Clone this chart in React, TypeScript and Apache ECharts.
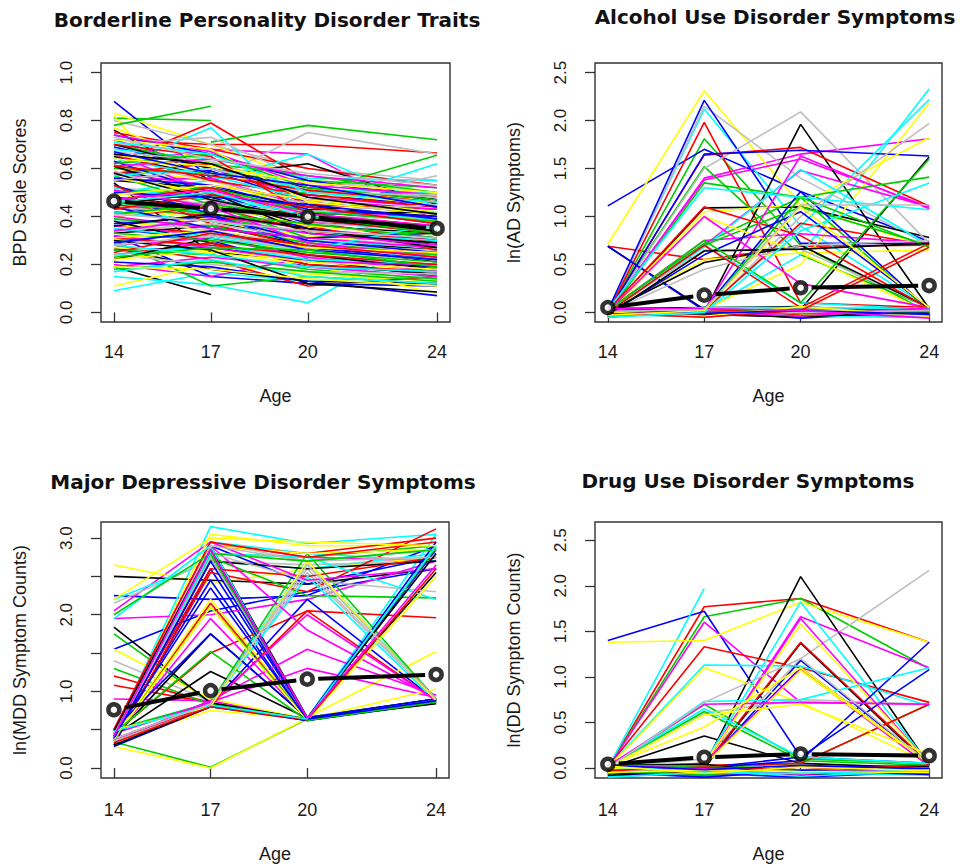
import React, { useEffect, useRef } from "react";
import * as echarts from "echarts";

// ---------- shared axis data ----------
const ages = [14, 17, 20, 24];
const ageTicks = [14, 17, 20, 24];
const bpdTicks = [0, 0.2, 0.4, 0.6, 0.8, 1.0];
const adTicks = [0, 0.5, 1.0, 1.5, 2.0, 2.5];
const mddTicks = [0, 0.5, 1.0, 1.5, 2.0, 2.5, 3.0];
const mddLabelTicks = [0, 1, 2, 3];
const ddTicks = [0, 0.5, 1.0, 1.5, 2.0, 2.5];

const titles = [
  "Borderline Personality Disorder Traits",
  "Alcohol Use Disorder Symptoms",
  "Major Depressive Disorder Symptoms",
  "Drug Use Disorder Symptoms",
];
const yNames = [
  "BPD Scale Scores",
  "ln(AD Symptoms)",
  "ln(MDD Symptom Counts)",
  "ln(DD Symptom Counts)",
];

// R classic palette: black, red, green3, blue, cyan, magenta, yellow, gray
const palette = ["#000000", "#FF0000", "#00CD00", "#0000FF", "#00FFFF", "#FF00FF", "#FFFF00", "#BEBEBE"];

// ---------- group means (ages 14, 17, 20, 24) ----------
const bpdMean = [0.464, 0.433, 0.399, 0.35];
const adMean = [0.05, 0.18, 0.257, 0.28];
const mddMean = [0.76, 1.01, 1.16, 1.22];
const ddMean = [0.04, 0.117, 0.153, 0.135];

// ---------- individual trajectories, grouped by palette colour ----------
const bpdLines = [
  [ // black
    [0.19, 0.075, null, null], [0.76, 0.55, 0.45, 0.38], [0.54, 0.25, 0.22, 0.15], [0.65, 0.57, 0.62, 0.45],
    [0.42, 0.38, 0.30, 0.26], [0.33, 0.36, 0.28, 0.21], [0.61, 0.48, 0.36, 0.33], [0.27, 0.18, 0.13, 0.12],
    [0.48, 0.44, 0.41, 0.42], [0.38, 0.29, 0.20, 0.16], [0.55, 0.52, 0.44, 0.40], [0.22, 0.31, 0.24, 0.18],
    [0.70, 0.60, 0.52, 0.47], [0.30, 0.26, 0.12, 0.085], [0.45, 0.50, 0.33, 0.29], [0.58, 0.47, 0.39, 0.34],
    [0.36, 0.41, 0.35, 0.27], [0.66, 0.62, 0.48, 0.41],
  ],
  [ // red
    [0.72, 0.70, 0.70, 0.665], [0.62, 0.79, 0.55, 0.48], [0.75, 0.68, 0.60, 0.53], [0.50, 0.47, 0.38, 0.29],
    [0.36, 0.33, 0.26, 0.22], [0.58, 0.62, 0.45, 0.43], [0.28, 0.22, 0.11, 0.15], [0.45, 0.40, 0.36, 0.26],
    [0.66, 0.55, 0.49, 0.44], [0.24, 0.29, 0.20, 0.17], [0.40, 0.44, 0.34, 0.30], [0.53, 0.37, 0.27, 0.25],
    [0.31, 0.28, 0.24, 0.20], [0.70, 0.65, 0.41, 0.36], [0.47, 0.52, 0.39, 0.33], [0.43, 0.49, 0.44, 0.37],
    [0.61, 0.57, 0.51, 0.46], [0.25, 0.33, 0.28, 0.23],
  ],
  [ // green
    [0.81, 0.80, null, null], [null, 0.71, 0.78, 0.72], [0.78, 0.86, null, null], [0.30, 0.11, 0.15, 0.12],
    [0.52, 0.48, 0.50, 0.655], [0.60, 0.58, 0.55, 0.52], [0.44, 0.40, 0.33, 0.28], [0.26, 0.24, 0.18, 0.14],
    [0.70, 0.62, 0.57, 0.50], [0.39, 0.36, 0.29, 0.24], [0.50, 0.52, 0.42, 0.38], [0.18, 0.21, 0.17, 0.13],
    [0.57, 0.45, 0.31, 0.34], [0.33, 0.30, 0.25, 0.21], [0.46, 0.41, 0.37, 0.31], [0.62, 0.66, 0.52, 0.47],
    [0.41, 0.45, 0.40, 0.33], [0.23, 0.27, 0.26, 0.19],
  ],
  [ // blue
    [0.88, 0.56, 0.42, 0.38], [0.32, 0.15, 0.12, 0.11], [0.69, 0.60, 0.49, 0.45], [0.47, 0.43, 0.40, 0.36],
    [0.58, 0.59, 0.46, 0.41], [0.35, 0.30, 0.19, 0.17], [0.26, 0.27, 0.22, 0.19], [0.63, 0.50, 0.37, 0.31],
    [0.41, 0.46, 0.35, 0.28], [0.53, 0.41, 0.27, 0.22], [0.21, 0.19, 0.13, 0.07], [0.74, 0.66, 0.55, 0.47],
    [0.44, 0.35, 0.31, 0.33], [0.56, 0.53, 0.43, 0.40], [0.37, 0.40, 0.30, 0.25], [0.50, 0.48, 0.45, 0.39],
    [0.29, 0.34, 0.26, 0.22], [0.67, 0.58, 0.53, 0.44],
  ],
  [ // cyan
    [0.09, 0.165, 0.13, 0.15], [0.15, 0.115, 0.04, 0.34], [0.60, 0.77, 0.40, 0.30], [0.50, 0.55, 0.66, 0.44],
    [0.45, 0.42, 0.45, 0.62], [0.68, 0.64, 0.56, 0.55], [0.38, 0.36, 0.30, 0.27], [0.30, 0.33, 0.25, 0.23],
    [0.52, 0.47, 0.42, 0.39], [0.24, 0.28, 0.22, 0.20], [0.64, 0.57, 0.47, 0.42], [0.42, 0.38, 0.33, 0.30],
    [0.17, 0.22, 0.15, 0.12], [0.57, 0.60, 0.51, 0.50], [0.35, 0.31, 0.26, 0.37], [0.46, 0.50, 0.40, 0.35],
    [0.71, 0.66, 0.50, 0.46], [0.28, 0.24, 0.19, 0.17],
  ],
  [ // magenta
    [0.62, 0.68, 0.66, 0.38], [0.20, 0.15, 0.23, 0.20], [0.72, 0.60, 0.48, 0.44], [0.55, 0.56, 0.44, 0.37],
    [0.48, 0.40, 0.35, 0.30], [0.36, 0.32, 0.27, 0.24], [0.66, 0.50, 0.42, 0.40], [0.28, 0.31, 0.23, 0.17],
    [0.43, 0.46, 0.38, 0.34], [0.19, 0.23, 0.19, 0.15], [0.58, 0.53, 0.47, 0.43], [0.32, 0.27, 0.21, 0.20],
    [0.40, 0.35, 0.31, 0.27], [0.74, 0.67, 0.53, 0.49], [0.51, 0.44, 0.29, 0.23], [0.61, 0.64, 0.57, 0.52],
    [0.34, 0.39, 0.33, 0.28], [0.47, 0.51, 0.41, 0.36],
  ],
  [ // yellow
    [0.83, 0.70, 0.55, 0.48], [0.82, 0.35, 0.30, 0.27], [0.77, 0.62, 0.50, 0.45], [0.11, 0.20, 0.16, 0.13],
    [0.60, 0.55, 0.43, 0.38], [0.45, 0.38, 0.32, 0.29], [0.35, 0.40, 0.29, 0.24], [0.52, 0.30, 0.26, 0.22],
    [0.27, 0.25, 0.20, 0.08], [0.66, 0.58, 0.52, 0.46], [0.40, 0.45, 0.36, 0.32], [0.22, 0.26, 0.21, 0.18],
    [0.56, 0.50, 0.41, 0.35], [0.72, 0.68, 0.46, 0.41], [0.31, 0.34, 0.27, 0.25], [0.49, 0.53, 0.47, 0.42],
    [0.64, 0.61, 0.54, 0.50], [0.19, 0.18, 0.14, 0.11],
  ],
  [ // gray
    [0.80, 0.70, 0.60, 0.55], [0.58, 0.55, 0.75, 0.66], [0.70, 0.73, 0.55, 0.50], [0.47, 0.42, 0.40, 0.39],
    [0.63, 0.55, 0.45, 0.43], [0.39, 0.34, 0.28, 0.26], [0.30, 0.28, 0.23, 0.20], [0.52, 0.49, 0.46, 0.57],
    [0.44, 0.41, 0.37, 0.35], [0.24, 0.20, 0.17, 0.16], [0.59, 0.47, 0.38, 0.36], [0.34, 0.37, 0.31, 0.28],
    [0.67, 0.63, 0.51, 0.48], [0.50, 0.45, 0.42, 0.45], [0.28, 0.32, 0.26, 0.22], [0.55, 0.60, 0.50, 0.49],
    [0.41, 0.38, 0.34, 0.31], [0.73, 0.64, 0.58, 0.53],
  ],
];

const adLines = [
  [ // black
    [0.69, 0.03, null, null], [0.0, 1.09, 1.1, 0.78], [0.02, 0.0, 1.96, 0.04], [-0.02, 0.01, 0.03, 1.62],
    [0.01, 0.52, 0.70, 0.05], [0.03, -0.04, 0.02, -0.03], [-0.05, 0.02, -0.02, 0.04], [0.04, 0.05, 0.06, -0.01],
    [0.0, -0.02, -0.05, 0.02], [-0.03, 0.64, 0.66, 0.72],
  ],
  [ // red
    [0.69, 0.55, 0.69, 0.70], [0.0, 1.98, 0.10, 0.05], [0.01, 1.64, 1.72, 1.11], [-0.02, 0.02, 0.93, 0.70],
    [0.02, 1.10, 0.80, 0.04], [0.0, 0.70, 0.05, 0.72], [0.03, -0.03, 0.01, 0.06], [-0.04, 0.04, -0.03, -0.05],
    [0.05, 0.01, 0.04, 0.02], [-0.01, -0.05, 0.02, 0.68],
  ],
  [ // green
    [0.0, 1.81, 0.70, 0.0], [0.02, 1.52, 0.60, 0.05], [-0.01, 1.35, 1.20, 0.02], [0.03, 0.72, 1.20, 1.41],
    [0.0, 0.70, 1.10, 0.70], [0.01, 0.02, 1.20, 0.68], [-0.03, 0.03, -0.02, 0.03], [0.04, -0.02, 0.05, -0.04],
    [-0.05, 0.05, 0.0, 0.01], [0.02, 0.75, 0.10, 1.60],
  ],
  [ // blue
    [1.11, 1.70, 1.26, 0.74], [0.02, 2.21, 0.72, 0.72], [0.0, 1.65, 1.69, 1.63], [0.69, 0.02, 0.03, 0.0],
    [0.01, 0.03, 1.26, 0.03], [-0.04, 0.05, -0.02, 0.05], [0.03, -0.03, 0.04, -0.04], [0.0, 0.01, -0.06, 0.01],
    [-0.02, 0.60, 1.05, 0.05], [0.05, -0.01, 0.02, -0.02],
  ],
  [ // cyan
    [0.02, 2.12, 0.90, 0.05], [0.0, 0.02, 0.60, 2.33], [-0.02, 0.03, 0.90, 2.22], [0.01, 0.68, 1.49, 0.70],
    [0.0, 0.70, 0.10, 0.03], [0.03, 1.30, 1.20, 1.07], [-0.03, -0.04, 0.03, 0.02], [0.04, 0.02, -0.04, -0.05],
    [0.0, 0.05, 0.05, 0.04], [-0.05, 0.0, 0.85, 1.35],
  ],
  [ // magenta
    [0.0, 1.40, 1.65, 1.81], [0.01, 1.38, 1.60, 1.10], [-0.01, 0.70, 1.48, 1.10], [0.02, 0.75, 0.82, 0.72],
    [0.0, 0.02, 1.63, 1.08], [0.01, 1.00, 0.30, 0.05], [-0.04, 0.03, -0.01, -0.03], [0.03, -0.05, 0.04, 0.03],
    [-0.02, 0.01, -0.04, 0.05], [0.04, 0.04, 0.02, -0.06],
  ],
  [ // yellow
    [0.71, 2.31, 1.12, 0.68], [0.0, 0.03, 0.50, 2.18], [0.01, 1.05, 1.12, 1.82], [0.02, 0.55, 0.62, 0.65],
    [-0.01, 1.00, 0.62, 0.0], [0.03, -0.02, 0.04, 0.03], [-0.04, 0.04, -0.03, -0.02], [0.05, 0.0, 0.01, 0.05],
    [0.0, -0.04, 0.06, -0.04], [-0.03, 0.02, 1.10, 0.05],
  ],
  [ // gray
    [0.0, 2.15, 1.40, 0.70], [0.01, 1.50, 2.09, 0.72], [-0.01, 0.0, 1.00, 1.97], [0.02, 0.65, 0.66, 0.05],
    [0.0, 0.45, 0.70, 0.75], [0.03, -0.03, 0.02, 0.04], [-0.04, 0.05, -0.04, -0.01], [0.04, 0.01, 0.05, -0.05],
    [-0.02, -0.01, 0.0, 0.02], [0.01, 0.03, 1.12, 1.12],
  ],
];

const mddLines = [
  [ // black
    [0.45, 2.75, 0.65, 2.55], [2.5, 2.45, 2.4, 2.6], [1.84, 0.85, 0.64, 0.9], [0.4, 1.75, 0.65, 0.88],
    [0.35, 2.9, 0.66, 0.9], [0.5, 0.82, 0.62, 0.86], [0.38, 2.7, 2.6, 2.7], [0.42, 1.26, 0.65, 0.9],
    [0.3, 0.8, 0.64, 0.84], [0.48, 2.85, 0.65, 2.8],
  ],
  [ // red
    [1.2, 0.85, 0.63, 0.88], [1.08, 0.85, 0.62, 0.9], [0.4, 2.15, 0.65, 0.9], [0.45, 1.5, 2.05, 1.96],
    [0.35, 2.55, 2.3, 3.12], [0.4, 2.9, 2.8, 3.0], [0.42, 2.6, 2.5, 2.75], [0.38, 0.82, 2.05, 0.88],
    [0.5, 2.95, 2.75, 2.95], [0.33, 0.8, 0.63, 2.6],
  ],
  [ // green
    [0.34, 0.01, 0.64, 0.88], [1.75, 0.85, 0.63, 0.9], [1.3, 0.83, 0.64, 0.87], [0.45, 2.8, 2.75, 2.9],
    [0.4, 2.1, 0.66, 0.9], [0.5, 0.85, 2.8, 0.9], [0.42, 2.75, 2.25, 2.22], [0.38, 2.8, 0.65, 2.88],
    [0.45, 1.52, 0.62, 0.86], [2.0, 2.8, 2.7, 2.85],
  ],
  [ // blue
    [2.25, 2.2, 2.25, 2.9], [1.55, 2.05, 2.3, 2.6], [0.3, 2.6, 0.65, 0.86], [0.4, 2.45, 0.63, 2.85],
    [0.35, 0.82, 2.2, 0.88], [0.45, 2.9, 2.4, 2.75], [0.28, 0.8, 0.62, 0.85], [0.5, 1.75, 0.66, 0.9],
    [0.38, 2.7, 0.65, 2.95], [0.42, 2.35, 0.64, 0.88],
  ],
  [ // cyan
    [0.45, 3.15, 2.93, 3.05], [2.2, 2.7, 2.6, 2.8], [0.4, 2.85, 0.65, 3.05], [0.5, 0.85, 2.7, 0.9],
    [0.35, 2.95, 2.8, 2.7], [0.45, 2.9, 0.62, 0.9], [0.38, 0.83, 2.5, 0.87], [0.42, 2.8, 2.75, 2.2],
    [1.95, 2.9, null, null], [0.48, 0.82, 0.64, 2.9],
  ],
  [ // magenta
    [2.05, 2.95, 2.75, 2.7], [0.9, 0.88, 0.63, 0.9], [1.95, 2.0, 2.2, 2.7], [0.4, 1.95, 0.64, 0.88],
    [0.35, 0.88, 1.55, 0.95], [0.45, 0.86, 1.3, 0.92], [0.4, 2.9, 1.8, 0.9], [0.5, 2.95, 2.45, 2.6],
    [0.38, 0.84, 2.0, 0.88], [0.42, 2.85, 0.65, 2.65],
  ],
  [ // yellow
    [2.65, 2.4, 2.6, 2.75], [1.55, 0.9, 0.64, 0.88], [0.28, 0.0, 0.65, 0.9], [0.45, 3.05, 2.9, 2.9],
    [0.4, 2.2, 0.66, 1.52], [0.35, 0.75, 0.64, 1.03], [0.42, 2.9, 2.8, 2.85], [0.38, 2.1, 0.62, 2.5],
    [0.5, 0.8, 2.7, 0.88], [2.2, 3.0, 2.95, 2.9],
  ],
  [ // gray
    [1.4, 0.87, 0.64, 0.88], [2.15, 2.7, 2.65, 2.7], [0.4, 2.95, 2.7, 2.85], [0.45, 0.85, 2.6, 0.88],
    [0.42, 2.85, 0.65, 2.5], [0.35, 0.82, 2.55, 0.9], [0.5, 2.8, 2.45, 2.3], [0.4, 2.75, 0.63, 0.88],
    [0.45, 2.9, 2.7, 2.75], [0.38, 0.84, 2.65, 0.9],
  ],
];

const ddLines = [
  [ // black
    [0.0, 0.35, 0.05, 0.0], [-0.02, 0.02, 2.10, 0.03], [0.01, 0.0, 1.37, 0.03], [0.02, -0.06, -0.04, 0.01],
    [-0.05, -0.02, 0.02, -0.04], [0.03, 0.04, -0.08, -0.02], [-0.08, -0.05, 0.01, 0.02],
  ],
  [ // red
    [0.0, 1.77, 1.86, 1.38], [0.01, 1.33, 1.10, 0.72], [-0.01, 0.02, 1.38, 0.05], [0.02, 0.03, 0.05, 0.70],
    [-0.06, -0.03, -0.07, -0.02], [0.03, -0.08, 0.02, -0.05], [-0.03, 0.01, -0.02, 0.03],
  ],
  [ // green
    [0.0, 1.66, 1.86, 1.09], [0.01, 0.70, 0.10, 0.05], [-0.02, 0.0, 0.05, 0.70], [0.02, 0.62, 0.08, 0.03],
    [-0.07, -0.04, 0.01, -0.03], [0.03, 0.02, -0.06, 0.01], [-0.04, -0.07, -0.03, -0.06],
  ],
  [ // blue
    [1.40, 1.72, 0.12, 0.05], [0.0, 0.02, 1.18, 0.04], [0.01, 0.04, 1.10, 0.05], [-0.01, 0.0, 0.08, 1.38],
    [0.02, 0.0, 0.12, 1.08], [-0.09, -0.06, -0.10, -0.04], [-0.05, -0.10, -0.03, -0.07], [0.03, -0.02, 0.03, -0.01],
  ],
  [ // cyan
    [0.0, 1.97, null, null], [0.01, 1.13, 1.12, 0.68], [-0.01, 0.05, 1.82, 0.05], [0.0, 0.73, 0.75, 1.10],
    [0.02, 0.65, 0.12, 0.05], [-0.06, -0.09, -0.05, -0.08], [0.01, -0.03, -0.09, -0.03], [-0.10, -0.05, -0.06, -0.02],
  ],
  [ // magenta
    [0.0, 1.60, 0.72, 0.70], [0.01, 0.05, 1.66, 1.10], [-0.01, 0.03, 1.64, 0.05], [0.0, 0.05, 1.08, 0.02],
    [0.02, 0.70, 0.72, 0.70], [-0.04, -0.08, -0.02, -0.06], [0.03, -0.01, -0.07, 0.0],
  ],
  [ // yellow
    [1.38, 1.40, 1.82, 1.38], [0.0, 1.10, 0.72, 0.05], [0.01, 0.05, 1.58, 0.05], [-0.01, 0.03, 1.07, 0.05],
    [0.0, 0.58, 0.70, 0.15], [0.02, 0.45, 1.10, 0.05], [-0.05, -0.02, -0.04, -0.05], [0.02, -0.06, 0.01, -0.03],
  ],
  [ // gray
    [0.0, 0.10, 1.20, 2.17], [0.01, 0.60, 0.75, 0.70], [-0.03, -0.05, -0.04, -0.01], [0.02, 0.01, -0.02, -0.04],
    [-0.06, -0.03, 0.02, -0.03], [0.0, 0.72, 1.20, 0.05],
  ],
];

// ---------- layout ----------
const grids = [
  { left: 101, top: 63, width: 349, height: 259 },
  { left: 595, top: 63, width: 347, height: 259 },
  { left: 101, top: 522, width: 348, height: 256 },
  { left: 595, top: 522, width: 347, height: 256 },
];
const yRanges = [
  [-0.04, 1.04],
  [-0.1, 2.6],
  [-0.13, 3.21],
  [-0.11, 2.7],
];
const titlePos = [
  [267, 20],
  [775, 17],
  [263, 482],
  [748, 481],
];

const TXT = "#1a1a1a";
const FONT = "Liberation Sans, Arial, sans-serif";

function buildSeries(groups: any[], mean: number[], gi: number) {
  const out: any[] = [];
  const maxLen = Math.max(...groups.map((g: any[]) => g.length));
  for (let k = 0; k < maxLen; k++) {
    for (let c = 0; c < groups.length; c++) {
      const tr = groups[c][k];
      if (!tr) continue;
      out.push({
        type: "line",
        xAxisIndex: gi,
        yAxisIndex: gi,
        silent: true,
        symbol: "none",
        connectNulls: false,
        lineStyle: { color: palette[c], width: 1.6 },
        data: ages.map((a, i) => [a, tr[i] == null ? "-" : tr[i]]),
        z: 2,
      });
    }
  }
  const segs = mean.slice(1).map((m, i) => [ages[i], mean[i], ages[i + 1], m]);
  out.push({
    type: "custom",
    xAxisIndex: gi,
    yAxisIndex: gi,
    silent: true,
    z: 5,
    data: segs,
    encode: { x: [0, 2], y: [1, 3] },
    renderItem: (params: any, api: any) => {
      const p1 = api.coord([api.value(0), api.value(1)]);
      const p2 = api.coord([api.value(2), api.value(3)]);
      const dx = p2[0] - p1[0];
      const dy = p2[1] - p1[1];
      const len = Math.sqrt(dx * dx + dy * dy) || 1;
      const ux = dx / len;
      const uy = dy / len;
      const g = 11;
      return {
        type: "line",
        shape: { x1: p1[0] + ux * g, y1: p1[1] + uy * g, x2: p2[0] - ux * g, y2: p2[1] - uy * g },
        style: { stroke: "#000", lineWidth: 4 },
      };
    },
  });
  out.push({
    type: "scatter",
    xAxisIndex: gi,
    yAxisIndex: gi,
    silent: true,
    z: 6,
    symbol: "circle",
    symbolSize: 11,
    itemStyle: { color: "#ffffff", borderColor: "#000", borderWidth: 4.5 },
    data: ages.map((a, i) => [a, mean[i]]),
  });
  return out;
}

export default function App() {
  const ref = useRef<HTMLDivElement>(null);
  useEffect(() => {
    if (!ref.current) return;
    const chart = echarts.init(ref.current, null, { renderer: "svg" });
    const yTickSets = [bpdTicks, adTicks, mddTicks, ddTicks];
    const yLabelSets = [bpdTicks, adTicks, mddLabelTicks, ddTicks];
    const xAxis = grids.map((_, gi) => ({
      gridIndex: gi,
      type: "value",
      min: 13.6,
      max: 24.4,
      splitLine: { show: false },
      axisLine: { show: false },
      axisTick: { show: true, length: 10, customValues: ageTicks, lineStyle: { color: "#333", width: 1.3 } },
      axisLabel: { customValues: ageTicks, fontSize: 18, color: TXT, fontFamily: FONT, margin: gi < 2 ? 21 : 23 },
      name: "Age",
      nameLocation: "middle",
      nameGap: gi < 2 ? 65 : 67,
      nameTextStyle: { fontSize: 18, color: TXT, fontFamily: FONT },
    }));
    const yAxis = grids.map((_, gi) => ({
      gridIndex: gi,
      type: "value",
      min: yRanges[gi][0],
      max: yRanges[gi][1],
      splitLine: { show: false },
      axisLine: { show: false },
      axisTick: { show: true, length: 10, customValues: yTickSets[gi], lineStyle: { color: "#333", width: 1.3 } },
      axisLabel: {
        customValues: yLabelSets[gi],
        rotate: 90,
        fontSize: 17,
        color: TXT,
        fontFamily: FONT,
        margin: 26,
        formatter: (v: number) => Number(v).toFixed(1),
      },
      name: yNames[gi],
      nameLocation: "middle",
      nameRotate: 90,
      nameGap: 72,
      nameTextStyle: { fontSize: 18, color: TXT, fontFamily: FONT },
    }));
    const series = [
      ...buildSeries(bpdLines, bpdMean, 0),
      ...buildSeries(adLines, adMean, 1),
      ...buildSeries(mddLines, mddMean, 2),
      ...buildSeries(ddLines, ddMean, 3),
    ];
    chart.setOption({
      animation: false,
      backgroundColor: "#ffffff",
      grid: grids.map((g) => ({ ...g, show: true, borderColor: "#333", borderWidth: 1.4, backgroundColor: "transparent" })),
      xAxis,
      yAxis,
      series,
      graphic: titles.map((t, i) => ({
        type: "text",
        x: titlePos[i][0],
        y: titlePos[i][1],
        silent: true,
        style: {
          text: t,
          fill: "#111",
          font: 'bold 20px "DejaVu Sans", sans-serif',
          align: "center",
          verticalAlign: "middle",
        },
      })),
    });
    return () => chart.dispose();
  }, []);
  return (
    <div
      ref={ref}
      style={{ position: "absolute", left: 0, top: 0, width: 963, height: 867, background: "#fff" }}
    />
  );
}
